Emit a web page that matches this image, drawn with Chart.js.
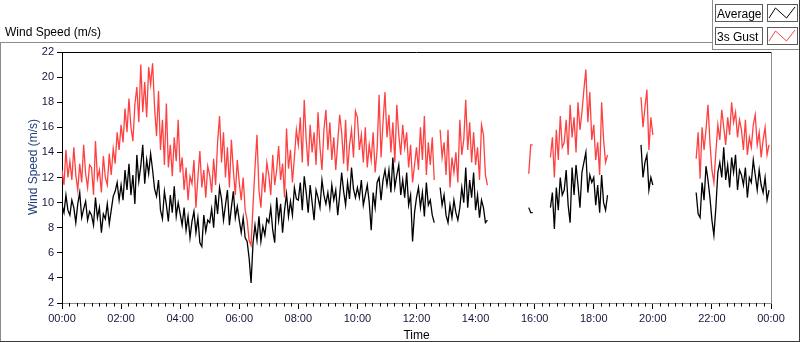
<!DOCTYPE html>
<html><head><meta charset="utf-8">
<script src="https://cdn.jsdelivr.net/npm/chart.js@4.4.0/dist/chart.umd.min.js"></script>
<style>html,body{margin:0;padding:0;background:#fff;overflow:hidden}#wrap{position:relative;width:800px;height:342px}canvas{display:block}</style>
</head><body><div id="wrap"><canvas id="c" width="800" height="342"></canvas></div>
<script>
// Sampling step of the series (minutes), one row per hour (15 samples)
const STEP_MIN = 4;
const timeTicks = [0,120,240,360,480,600,720,840,960,1080,1200,1320,1440];
const timeLabels = ['00:00','02:00','04:00','06:00','08:00','10:00','12:00','14:00','16:00','18:00','20:00','22:00','00:00'];
const yTicks = [2,4,6,8,10,12,14,16,18,20,22];
const seriesNames = ['Average','3s Gust'];

const gustSpeed = [
12.6,11.4,14.2,12.0,13.3,11.8,14.4,12.2,11.0,13.1,11.6,14.6,12.3,11.2,13.0,
12.8,10.6,14.9,11.9,12.6,10.8,13.7,12.0,11.4,13.9,12.2,14.3,13.1,15.6,14.2,
16.2,14.8,17.5,15.6,18.3,16.0,14.9,17.8,19.2,16.4,21.0,17.2,19.6,16.8,20.8,
19.4,21.1,17.6,15.3,18.9,14.2,16.6,13.0,17.9,12.8,14.6,12.1,15.2,13.3,16.6,
12.4,13.6,11.0,12.8,10.2,12.1,11.5,13.4,9.6,12.0,14.1,11.2,12.6,10.4,12.9,
12.2,10.8,13.5,11.4,14.8,16.9,13.2,15.6,12.0,14.4,11.2,15.0,12.6,10.6,13.4,
11.6,10.2,12.0,9.4,8.6,7.0,6.6,9.8,12.8,15.4,11.0,9.6,12.4,10.8,13.2,
12.2,10.6,13.8,11.4,12.6,14.5,11.8,13.1,10.4,15.9,12.7,14.2,11.6,13.6,15.8,
14.6,16.8,13.2,18.2,15.0,12.9,16.2,14.0,15.6,13.0,17.2,14.4,12.6,15.8,17.4,
14.2,16.4,13.4,15.2,12.6,14.8,17.0,15.6,13.1,16.6,12.5,14.6,15.8,13.6,17.3,
16.8,14.2,15.4,13.2,16.0,12.8,14.6,13.4,15.6,12.4,14.2,18.6,13.6,16.4,18.8,
15.2,17.0,14.0,16.4,13.2,17.8,15.4,13.8,16.2,14.4,15.6,12.8,14.6,11.6,13.0,
14.4,12.6,16.0,13.4,16.9,12.2,14.8,13.0,15.2,11.8,null,null,15.8,13.6,14.8,
12.2,15.8,11.2,13.6,12.4,14.0,11.6,16.6,13.8,15.0,18.2,14.2,16.4,13.2,15.6,
13.0,14.4,11.8,16.2,15.4,12.2,11.4,null,null,null,null,null,null,null,null,
null,null,null,null,null,null,null,null,null,null,null,null,12.3,14.6,14.6,
null,null,null,null,null,null,null,null,13.6,15.2,12.0,15.8,13.4,16.9,14.4,
14.8,16.6,13.8,17.8,15.2,16.8,14.0,18.0,15.8,17.2,19.0,20.6,16.4,18.8,15.0,
16.2,13.4,14.8,12.2,18.0,15.0,13.2,13.8,null,null,null,null,null,null,null,
null,null,null,null,null,null,null,null,null,18.4,16.0,17.6,19.0,14.2,16.8,
15.4,null,null,null,null,null,null,null,null,null,null,null,null,null,null,
null,null,null,null,null,null,null,13.5,15.6,11.9,16.0,14.2,15.8,17.8,14.8,
12.6,11.6,14.0,16.2,15.0,17.4,16.0,14.6,16.8,15.4,18.0,16.4,17.2,15.2,16.6,
15.8,14.2,16.6,13.8,15.2,14.4,16.2,17.0,14.6,15.6,13.6,15.0,16.0,13.8,14.6
];

const avgSpeed = [
9.8,9.2,10.6,9.4,9.0,10.2,9.6,8.4,9.9,10.8,8.8,9.5,10.1,8.6,9.3,
9.0,8.2,10.4,8.8,9.6,7.6,9.1,8.7,9.9,8.3,9.4,10.5,10.9,11.6,10.2,
11.4,10.2,12.6,11.0,13.1,10.6,12.2,9.9,13.8,11.7,12.9,14.6,11.5,13.4,12.3,
13.9,12.6,11.1,10.5,11.8,9.4,8.7,10.9,9.8,8.5,10.6,9.2,11.3,8.9,10.0,
9.1,8.2,9.6,7.8,8.9,7.2,8.5,9.3,7.6,8.8,6.8,6.5,9.0,7.7,8.6,
8.4,9.5,8.0,10.6,9.1,11.2,10.3,8.6,9.8,11.0,8.2,9.6,10.9,8.8,9.7,
8.6,7.6,8.8,7.2,6.9,5.6,3.6,6.8,8.2,7.0,8.9,6.9,8.1,7.4,8.7,
8.4,9.6,7.8,6.8,10.4,8.6,9.9,7.6,9.4,10.7,8.9,10.1,9.0,11.2,10.3,
10.2,11.6,9.4,12.1,10.8,9.2,11.4,10.0,8.6,11.0,10.4,9.6,11.8,10.6,9.9,
10.8,9.6,11.4,10.2,11.0,9.0,10.6,12.4,10.9,9.8,11.6,10.3,12.8,11.1,10.4,
11.2,10.4,11.8,9.8,10.6,11.4,10.0,7.8,10.8,9.6,11.6,12.0,10.2,11.8,12.6,
11.4,12.6,10.8,13.6,11.2,12.2,13.0,10.6,11.8,10.4,12.4,9.8,10.6,6.9,9.2,
10.4,11.2,9.6,10.8,8.9,11.6,9.8,10.2,9.0,8.4,null,null,11.2,9.8,10.6,
9.0,8.4,9.8,8.8,10.2,9.2,8.6,9.6,11.2,10.0,12.8,9.6,11.8,10.4,12.4,
9.4,10.6,8.8,10.2,9.6,8.4,8.6,null,null,null,null,null,null,null,null,
null,null,null,null,null,null,null,null,null,null,null,null,9.6,9.2,9.2,
null,null,null,null,null,null,null,null,9.6,10.8,7.9,11.2,9.4,12.0,10.6,
11.0,12.6,9.8,8.4,12.8,10.6,13.0,11.4,9.6,12.4,13.2,14.0,10.8,12.2,11.6,
12.0,9.8,11.4,9.2,12.2,10.0,9.4,10.6,null,null,null,null,null,null,null,
null,null,null,null,null,null,null,null,null,14.6,12.0,13.2,13.8,11.0,12.0,
11.4,null,null,null,null,null,null,null,null,null,null,null,null,null,null,
null,null,null,null,null,null,null,10.8,9.1,8.8,11.6,10.2,12.9,11.8,10.4,
8.6,7.4,9.6,12.4,13.2,12.0,14.4,11.8,13.0,11.2,13.6,12.4,13.8,11.0,12.6,
12.2,11.4,12.8,10.4,12.0,11.6,13.4,12.2,11.0,12.6,11.4,10.8,12.0,10.2,11.0
];

const FONT = 'Liberation Sans, Arial, sans-serif';
const TICK_COLOR = '#16163a';
const RED = '#ff4040';

const toXY = arr => arr.map((v, i) => ({x: i * STEP_MIN, y: v}));

const framePlugin = {
  id: 'frame',
  beforeDraw(chart) {
    const c = chart.ctx;
    c.save();
    c.fillStyle = '#fff';
    c.fillRect(0, 0, chart.width, chart.height);
    c.restore();
  },
  afterDraw(chart) {
    const c = chart.ctx;
    const a = chart.chartArea;
    const xs = chart.scales.x;
    c.save();
    c.strokeStyle = '#000';
    c.lineWidth = 1;
    c.beginPath();
    for (let m = 15; m < 1440; m += 15) {
      if (m % 120 === 0) continue;
      const px = Math.round(xs.getPixelForValue(m)) + 0.5;
      c.moveTo(px, a.bottom);
      c.lineTo(px, a.bottom + 3.5);
    }
    c.stroke();
    c.beginPath();
    c.strokeStyle = '#000';
    c.moveTo(a.left, Math.round(a.top) + 0.5);
    c.lineTo(a.right, Math.round(a.top) + 0.5);
    c.stroke();
    c.beginPath();
    c.strokeStyle = '#8c8c8c';
    c.moveTo(Math.round(a.right) + 0.5, a.top);
    c.lineTo(Math.round(a.right) + 0.5, a.bottom);
    c.stroke();
    c.strokeStyle = '#8c8c8c';
    c.beginPath();
    c.moveTo(0, 42.5); c.lineTo(712, 42.5);
    c.moveTo(0.5, 42); c.lineTo(0.5, 342);
    c.moveTo(712.5, 0); c.lineTo(712.5, 49);
    c.moveTo(712, 49.5); c.lineTo(800, 49.5);
    c.stroke();
    c.strokeStyle = '#3a3a3a';
    c.beginPath();
    c.moveTo(0, 341.5); c.lineTo(800, 341.5);
    c.moveTo(799.5, 0); c.lineTo(799.5, 342);
    c.stroke();
    c.fillStyle = '#000';
    c.font = '12px ' + FONT;
    c.textBaseline = 'alphabetic';
    c.textAlign = 'left';
    c.fillText('Wind Speed (m/s)', 5, 36);
    c.textAlign = 'center';
    c.fillText('Time', (a.left + a.right) / 2, 339);
    c.save();
    c.translate(37, 167);
    c.rotate(-Math.PI / 2);
    c.fillStyle = '#22407a';
    c.textAlign = 'center';
    c.fillText('Wind Speed (m/s)', 0, 0);
    c.restore();
    const colors = ['#000', RED];
    seriesNames.forEach((name, k) => {
      const y0 = 4 + k * 23;
      c.fillStyle = '#fff';
      c.fillRect(715, y0, 47, 17);
      c.fillRect(767, y0, 30, 17);
      c.strokeStyle = '#5a5a5a';
      c.strokeRect(715.5, y0 + 0.5, 47, 17);
      c.strokeRect(767.5, y0 + 0.5, 30, 17);
      c.fillStyle = '#000';
      c.textAlign = 'left';
      c.fillText(name, 717, y0 + 13.5);
      c.strokeStyle = colors[k];
      c.beginPath();
      c.moveTo(769, y0 + 14);
      c.lineTo(775.5, y0 + 4);
      c.lineTo(786.5, y0 + 14);
      c.lineTo(795, y0 + 3);
      c.stroke();
    });
    c.restore();
  }
};

new Chart(document.getElementById('c'), {
  type: 'line',
  data: {
    datasets: [
      {label: seriesNames[1], data: toXY(gustSpeed), borderColor: RED, borderWidth: 1.3, pointRadius: 0, tension: 0, spanGaps: false},
      {label: seriesNames[0], data: toXY(avgSpeed), borderColor: '#000', borderWidth: 1.3, pointRadius: 0, tension: 0, spanGaps: false}
    ]
  },
  options: {
    responsive: false,
    animation: false,
    devicePixelRatio: 1,
    layout: {padding: {left: 0, right: 29, top: 52, bottom: 0}},
    plugins: {legend: {display: false}, tooltip: {enabled: false}, title: {display: false}},
    scales: {
      x: {
        type: 'linear', min: 0, max: 1440,
        afterBuildTicks: s => { s.ticks = timeTicks.map(v => ({value: v})); },
        afterFit: s => { s.height = 39; },
        grid: {drawOnChartArea: false, tickLength: 6, tickColor: '#000', color: '#000'},
        border: {color: '#8c8c8c'},
        ticks: {
          autoSkip: false, maxRotation: 0, padding: 3, color: TICK_COLOR,
          font: {family: FONT, size: 11},
          callback: v => { const i = timeTicks.indexOf(v); return i >= 0 ? timeLabels[i] : ''; }
        }
      },
      y: {
        min: 2, max: 22,
        afterBuildTicks: s => { s.ticks = yTicks.map(v => ({value: v})); },
        afterFit: s => { s.width = 62; },
        grid: {drawOnChartArea: false, tickLength: 5, tickColor: '#000'},
        border: {color: '#000'},
        ticks: {padding: 3, color: TICK_COLOR, font: {family: FONT, size: 11}}
      }
    }
  },
  plugins: [framePlugin]
});
</script>
</body></html>
